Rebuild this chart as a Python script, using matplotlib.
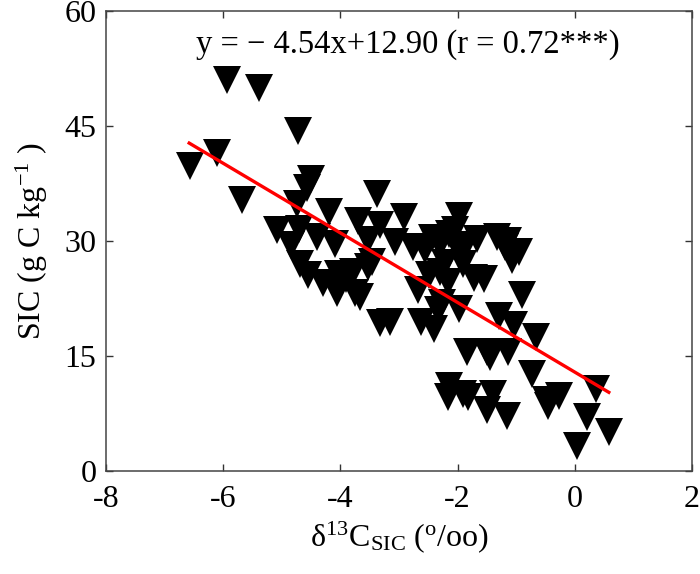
import numpy as np
import matplotlib.pyplot as plt

plt.rcParams['font.family'] = ['Liberation Serif', 'DejaVu Serif']
plt.rcParams['mathtext.fontset'] = 'custom'
plt.rcParams['mathtext.rm'] = 'Liberation Serif'
plt.rcParams['mathtext.it'] = 'Liberation Serif:italic'

# d13C_SIC (per mil) and SIC (g C kg-1)
d13c = [-5.93, -5.39, -4.72, -6.11, -6.57, -5.68, -4.50, -4.57, -4.74, -4.19,
        -3.70, -3.38, -2.91, -5.08, -4.71, -4.40, -4.09, -4.85, -4.69, -4.55,
        -4.04, -4.06, -4.01, -3.75, -3.53, -3.32, -1.98, -3.32, -2.44, -2.15,
        -1.67, -1.33, -3.53, -3.07, -2.76, -3.78, -3.46, -2.21, -1.72, -2.68,
        -3.66, -2.26, -1.14, -0.95, -2.49, -2.33, -2.16, -1.55, -1.97, -0.90,
        -3.15, -2.62, -2.40, -1.29, -1.03, -0.66, -1.84, -1.45, -1.14, -0.73,
        0.36, -2.15, -2.16, -1.82, -1.40, -1.50, -1.16, -0.49, -0.27, -0.46,
        0.21, 0.58, 0.04, -1.19, -1.07, -2.55, -2.30, -2.00, -1.90, -2.30,
        -1.50, -1.90, -2.05, -1.85, -4.30, -3.90]
sic = [51.0, 50.0, 44.3, 41.5, 39.8, 35.3, 38.1, 36.9, 34.8, 33.8,
       32.6, 36.1, 33.1, 31.4, 31.6, 30.5, 29.6, 29.5, 27.0, 25.6,
       25.7, 23.2, 24.5, 23.2, 26.6, 19.3, 33.3, 32.1, 30.4, 30.9,
       30.3, 30.5, 30.1, 29.9, 29.2, 26.0, 27.3, 27.1, 25.2, 23.6,
       22.7, 21.9, 30.0, 28.6, 25.6, 21.0, 24.7, 25.0, 21.1, 23.0,
       19.4, 19.4, 18.5, 20.2, 19.0, 17.5, 15.5, 14.9, 15.5, 12.6,
       10.7, 11.1, 9.7, 9.6, 10.0, 7.9, 7.2, 9.3, 9.8, 8.5,
       7.1, 5.1, 3.3, 29.2, 27.5, 28.8, 29.5, 29.0, 27.0, 26.0,
       15.5, 10.0, 31.5, 29.5, 24.5, 25.0]

slope = -4.54
intercept = 12.90
fit_range = [-6.58, 0.58]

fig = plt.figure(figsize=(7, 5.74), dpi=100)
ax = fig.add_axes([0.1514, 0.1794, 0.8372, 0.8014])

ax.plot(d13c, sic, 'v', color='black', markersize=20, markeredgewidth=0)
xf = np.array(fit_range)
ax.plot(xf, slope * xf + intercept, color='red', linewidth=2.4)

ax.text(-2.85, 55.6, 'y = \u2212 4.54x+12.90 (r = 0.72***)', fontsize=23.5,
        ha='center', va='center')

ax.set_xlim(-8, 2)
ax.set_ylim(0, 60)
ax.set_xticks([-8, -6, -4, -2, 0, 2])
ax.set_xticklabels(['-8', '-6', '-4', '-2', '0', '2'])
ax.set_yticks([0, 15, 30, 45, 60])
ax.tick_params(direction='in', top=True, right=True, length=5, width=1,
               labelsize=23, color='#333333')
ax.tick_params(axis='x', pad=10)
ax.tick_params(axis='y', pad=7)
for s in ax.spines.values():
    s.set_color('#444444')
    s.set_linewidth(1.1)

ax.set_ylabel(r'SIC (g C kg$^{\mathrm{-1}}$ )', fontsize=23, labelpad=10)
ax.set_xlabel(r'$\mathrm{\delta^{13}C_{SIC}}$ ($^{\mathrm{o}}$/oo)', fontsize=23,
              labelpad=4)

fig.savefig('out.png', dpi=100)
